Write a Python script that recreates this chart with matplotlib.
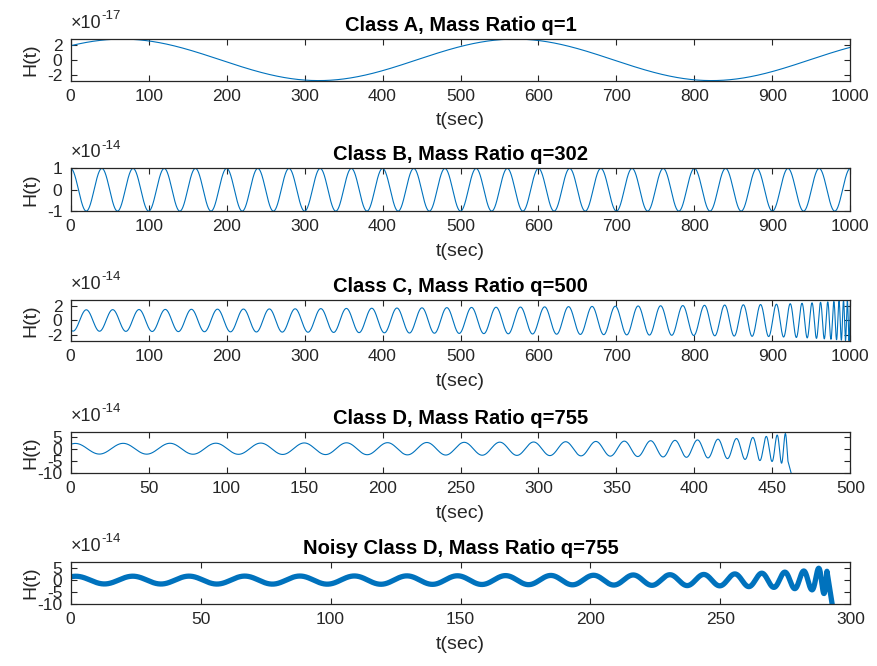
import numpy as np
import matplotlib.pyplot as plt
from matplotlib.ticker import FuncFormatter

plt.rcParams['font.family'] = ['Liberation Sans', 'DejaVu Sans']
plt.rcParams['axes.unicode_minus'] = False

# panel texts
titles = ['Class A, Mass Ratio q=1', 'Class B, Mass Ratio q=302',
          'Class C, Mass Ratio q=500', 'Class D, Mass Ratio q=755',
          'Noisy Class D, Mass Ratio q=755']
x_max = [1000, 1000, 1000, 500, 300]
x_ticks = [np.arange(0, 1001, 100)] * 3 + [np.arange(0, 501, 50), np.arange(0, 301, 50)]
exps = [-17, -14, -14, -14, -14]
y_ticks = [[-2, 0, 2], [-1, 0, 1], [-2, 0, 2], [-10, -5, 0, 5], [-10, -5, 0, 5]]
y_lims = [(-2.8, 2.8), (-1, 1), (-2.8, 2.8), (-10, 7), (-10, 7.5)]

# waveform read-off: time knots, period (s) and amplitude at the knots
kt_a = [0, 1000];  per_a = [504, 504];  amp_a = [2.8, 2.8];  peak_a = 66
kt_b = [0, 1000];  per_b = [40, 40];    amp_b = [1.0, 1.0];  peak_b = 0
kt_c = [0, 300, 600, 800, 900, 950, 980, 1000]
per_c = [34, 33, 31, 28, 20, 12, 7, 4]
amp_c = [1.45, 1.6, 1.85, 2.05, 2.2, 2.4, 2.6, 2.8];  peak_c = 20
kt_d = [0, 100, 200, 300, 350, 400, 430, 450, 460]
per_d = [31, 29, 26, 21, 18, 14, 11, 7, 4]
amp_d = [2.2, 2.3, 2.5, 2.8, 3.1, 3.6, 4.3, 5.3, 6.5];  peak_d = 3
kt_n = [0, 100, 150, 200, 250, 270, 285, 291]
per_n = [22, 21, 19, 16, 12, 9, 6, 3]
amp_n = [1.6, 1.7, 1.8, 2.0, 2.4, 3.0, 4.0, 6.0];  peak_n = 2
# last samples (time, value) where the signal drops off
end_d = (462, -10)
end_n = (293, -10)

specs = [(kt_a, per_a, amp_a, peak_a, None, 0.8),
         (kt_b, per_b, amp_b, peak_b, None, 0.8),
         (kt_c, per_c, amp_c, peak_c, None, 0.8),
         (kt_d, per_d, amp_d, peak_d, end_d, 0.8),
         (kt_n, per_n, amp_n, peak_n, end_n, 3.8)]


def wave(kt, per, amp, t_peak):
    t = np.linspace(kt[0], kt[-1], 20000)
    f = 1.0 / np.interp(t, kt, per)
    ph = np.concatenate([[0], np.cumsum(0.5 * (f[1:] + f[:-1]) * np.diff(t))]) * 2 * np.pi
    ph -= np.interp(t_peak, t, ph)
    return t, np.interp(t, kt, amp) * np.cos(ph)


fig = plt.figure(figsize=(8.77, 6.66), dpi=100)
bottoms = [0.879, 0.683, 0.488, 0.290, 0.093]
heights = [0.0623, 0.0641, 0.0616, 0.0616, 0.063]
ink = '#262626'

for i in range(5):
    ax = fig.add_axes([0.0806, bottoms[i], 0.889, heights[i]])
    kt, per, amp, pk, end, lw = specs[i]
    t, h = wave(kt, per, amp, pk)
    if end is not None:
        t = np.append(t, end[0])
        h = np.append(h, end[1])
    scale = 10.0 ** exps[i]
    ax.plot(t, h * scale, color='#0072BD', lw=lw)
    ax.set_xlim(0, x_max[i])
    ax.set_ylim(y_lims[i][0] * scale, y_lims[i][1] * scale)
    ax.set_xticks(x_ticks[i])
    ax.set_yticks(np.array(y_ticks[i]) * scale)
    ax.yaxis.set_major_formatter(FuncFormatter(lambda v, p, s=scale: '%g' % round(v / s, 6)))
    # exponent label above the y axis
    ax.annotate('\u00d710', xy=(0, 1), xycoords='axes fraction', xytext=(0, 5),
                textcoords='offset points', fontsize=13, color=ink, ha='left', va='bottom')
    ax.annotate('%d' % exps[i], xy=(0, 1), xycoords='axes fraction', xytext=(22, 12),
                textcoords='offset points', fontsize=9.5, color=ink, ha='left', va='bottom')
    ax.tick_params(direction='in', top=True, right=True, length=4, labelsize=12.5,
                   colors=ink, pad=6)
    for s in ax.spines.values():
        s.set_color(ink)
        s.set_linewidth(0.9)
    ax.set_title(titles[i], fontsize=14.5, fontweight='bold', color='black', pad=6)
    ax.set_xlabel('t(sec)', fontsize=14, color=ink, labelpad=6)
    ax.set_ylabel('H(t)', fontsize=14, color=ink)
    ax.yaxis.set_label_coords(-0.04, 0.5)

fig.savefig('out.png', dpi=100)
